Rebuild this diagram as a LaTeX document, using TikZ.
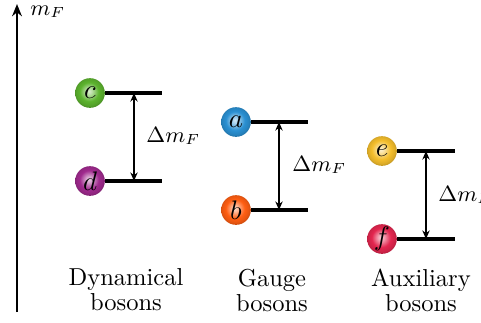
\documentclass[tikz,border=0pt]{standalone}
\usetikzlibrary{arrows.meta,shadings}
\definecolor{cgreen}{HTML}{5CB32E}
\definecolor{cpurple}{HTML}{A02A8E}
\definecolor{cblue}{HTML}{2A90D2}
\definecolor{corange}{HTML}{FF5E12}
\definecolor{cyellow}{HTML}{F4BE2C}
\definecolor{cred}{HTML}{E3264F}
\colorlet{ballcol}{cgreen}
\pgfdeclareradialshading[ballcol]{softball}{\pgfpoint{-2bp}{3bp}}{%
  color(0bp)=(ballcol!22!white);
  color(5bp)=(ballcol!42!white);
  color(16bp)=(ballcol);
  color(23bp)=(ballcol!90!black);
  color(25bp)=(ballcol!82!black);
  color(50bp)=(ballcol!82!black)}
\tikzset{
  ballnode/.style={circle,minimum size=12.1pt,inner sep=0pt,
    font=\fontsize{11}{13}\selectfont,
    /utils/exec={\colorlet{ballcol}{#1}},shading=softball},
  level/.style={line width=1.25pt},
  gap/.style={line width=0.6pt,{Stealth[length=3.5pt,width=3pt]}-{Stealth[length=3.5pt,width=3pt]}},
  gaplabel/.style={anchor=west,inner sep=0pt,font=\fontsize{8.6}{10}\selectfont},
  catlabel/.style={align=center,inner sep=0pt,font=\fontsize{10}{10.2}\selectfont}
}
\begin{document}
\begin{tikzpicture}[x=0.408pt,y=-0.408pt]
\useasboundingbox (0,0) rectangle (481,322);
% axis
\coordinate (ax0) at (17,312);
\coordinate (ax1) at (17,4);
\draw[line width=0.9pt,-{Stealth[length=5pt,width=4pt]}] (ax0) -- (ax1);
\node[gaplabel] (mF) at (30,12) {$m_F$};
% Dynamical
\node[ballnode=cgreen] (c) at (90,93) {$c$};
\node[ballnode=cpurple] (d) at (90,181) {$d$};
\coordinate (cr) at (162,93);
\coordinate (dr) at (162,181);
\draw[level] (c.east) -- (cr);
\draw[level] (d.east) -- (dr);
\coordinate (ct) at (134,93);
\coordinate (db) at (134,181);
\draw[gap] (ct) -- (db);
\node[gaplabel] (l1) at (146,136) {$\Delta m_F$};
% Gauge
\node[ballnode=cblue] (a) at (236,122) {$a$};
\node[ballnode=corange] (b) at (236,210) {$b$};
\coordinate (ar) at (308,122);
\coordinate (br) at (308,210);
\draw[level] (a.east) -- (ar);
\draw[level] (b.east) -- (br);
\coordinate (at) at (279,122);
\coordinate (bb) at (279,210);
\draw[gap] (at) -- (bb);
\node[gaplabel] (l2) at (292,165) {$\Delta m_F$};
% Auxiliary
\node[ballnode=cyellow] (e) at (382,151) {$e$};
\node[ballnode=cred] (f) at (382,239) {$f$};
\coordinate (er) at (455,151);
\coordinate (fr) at (455,239);
\draw[level] (e.east) -- (er);
\draw[level] (f.east) -- (fr);
\coordinate (et) at (426,151);
\coordinate (fb) at (426,239);
\draw[gap] (et) -- (fb);
\node[gaplabel] (l3) at (438,195) {$\Delta m_F$};
% categories
\node[catlabel] (t1) at (126,290) {Dynamical\\bosons};
\node[catlabel] (t2) at (272,290) {Gauge\\bosons};
\node[catlabel] (t3) at (421,290) {Auxiliary\\bosons};
\end{tikzpicture}
\end{document}
